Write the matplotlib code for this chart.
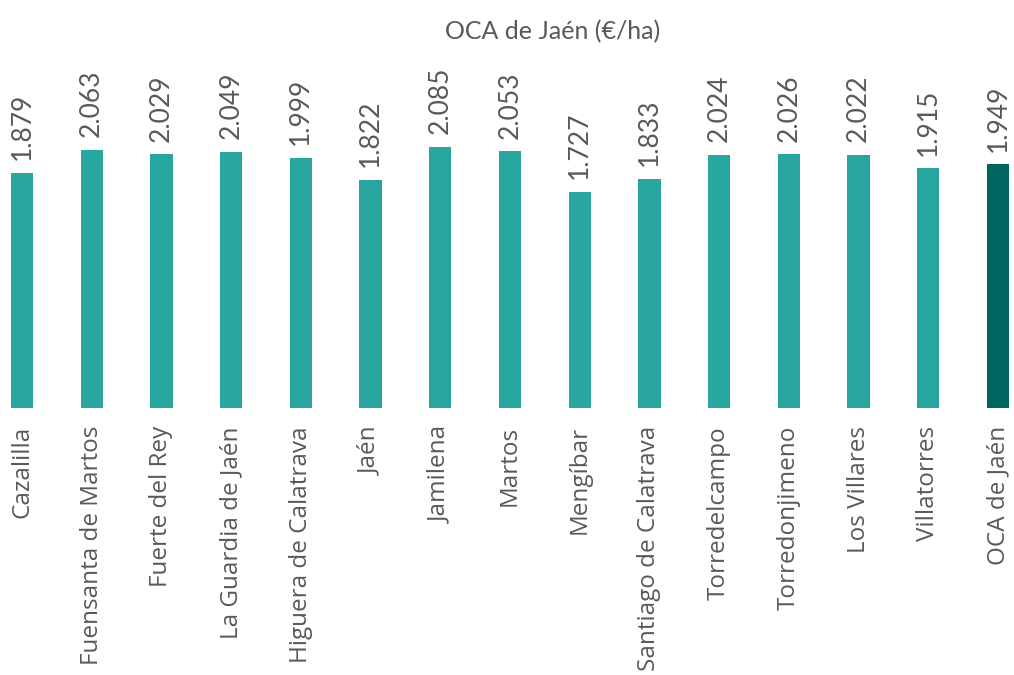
import matplotlib
matplotlib.use("Agg")
import matplotlib.pyplot as plt

# datos
municipios = ["Cazalilla", "Fuensanta de Martos", "Fuerte del Rey", "La Guardia de Jaén",
              "Higuera de Calatrava", "Jaén", "Jamilena", "Martos", "Mengíbar",
              "Santiago de Calatrava", "Torredelcampo", "Torredonjimeno", "Los Villares",
              "Villatorres", "OCA de Jaén"]
valores = [1879, 2063, 2029, 2049, 1999, 1822, 2085, 2053, 1727,
           1833, 2024, 2026, 2022, 1915, 1949]

COLOR_MUN = "#2aa6a0"
COLOR_OCA = "#00655f"
TXT = "#595959"

fig = plt.figure(figsize=(10.14, 6.75), dpi=100)
ax = fig.add_axes([0, 267 / 675, 1, 348 / 675])

colores = [COLOR_MUN] * (len(valores) - 1) + [COLOR_OCA]
x = range(len(valores))
bars = ax.bar(x, valores, width=0.32, color=colores)

for b, v in zip(bars, valores):
    ax.annotate(f"{v:,}".replace(",", "."),
                (b.get_x() + b.get_width() / 2, v),
                xytext=(0, 9), textcoords="offset points",
                rotation=90, ha="center", va="bottom",
                fontsize=19, color=TXT, family="Lato")

ax.set_xlim(-0.316, 14.23)
ax.set_ylim(0, 2780)
ax.set_xticks(list(x))
ax.set_xticklabels(municipios, rotation=90, fontsize=17.5, color=TXT, family="Open Sans")
ax.tick_params(axis="x", length=0, pad=13)
ax.set_yticks([])
for s in ax.spines.values():
    s.set_visible(False)

fig.text(553 / 1014, 1 - 32 / 675, "OCA de Jaén (€/ha)", ha="center", va="center",
         fontsize=18, color=TXT, family="Lato")

fig.savefig("out.png", dpi=100)
